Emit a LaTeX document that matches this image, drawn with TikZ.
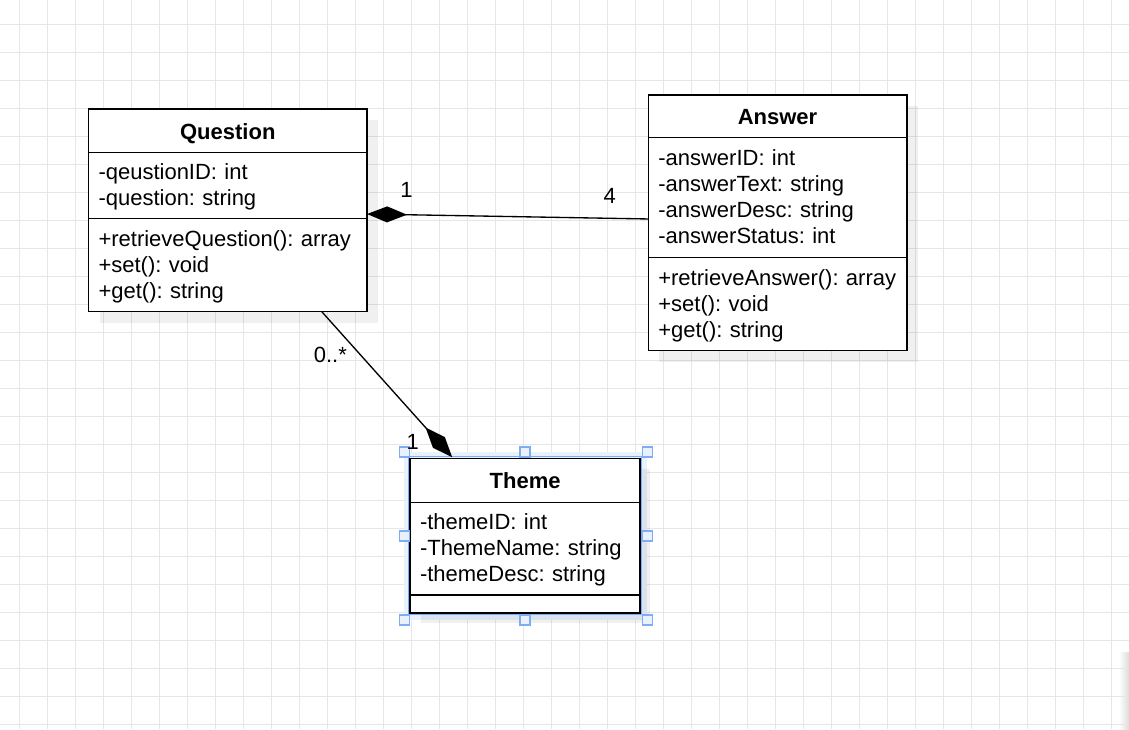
\documentclass[tikz,border=0pt]{standalone}
\usepackage{fontspec}
\setmainfont{Liberation Sans}
\usetikzlibrary{positioning,calc,arrows.meta,backgrounds}

\definecolor{gridgray}{HTML}{E6E6E6}
\definecolor{selblue}{HTML}{7EADF5}
\definecolor{selglow}{HTML}{E8F1FC}

\newcommand{\umlfont}{\fontsize{16.5}{19.5}\selectfont\frenchspacing\hyphenpenalty=10000 }

\begin{document}
\begin{tikzpicture}[x=0.75pt,y=-0.75pt,
	classpart/.style={draw, fill=white, line width=1.2pt, outer sep=0pt,
		inner xsep=7.5pt, inner ysep=0pt, text width=#1},
	classhead/.style={classpart=#1, align=center,
		text height=12.5pt, text depth=0pt, font=\umlfont\bfseries},
	classbody/.style={classpart=#1, align=left,
		execute at begin node={\rule{0pt}{15pt}},
		execute at end node={\rule[-4.2pt]{0pt}{4.2pt}},
		font=\umlfont},
	compo/.style={line width=1pt, -{Diamond[length=30pt,width=12pt]}},
	mult/.style={inner sep=0pt, font=\umlfont},
	selhandle/.style={draw=selblue, fill=selglow, line width=0.9pt,
		minimum size=7.5pt, inner sep=0pt},
	boxshadow/.style={fill=black, opacity=0.06},
	gridline/.style={gridgray, line width=0.75pt}
	]
	
	\useasboundingbox (0,0) rectangle (1129,729);
	
	% Classes
	\node[classhead=193.9pt, minimum height=32.5pt, anchor=north west] (qhead) at (88.5,109) {Question};
	\node[classbody=193.9pt, minimum height=49.5pt, below=0pt of qhead] (qattr)
		{-qeustionID: int\\-question: string};
	\node[classbody=193.9pt, minimum height=70pt, below=0pt of qattr] (qmeth)
		{+retrieveQuestion(): array\\+set(): void\\+get(): string};
	
	\node[classhead=178.8pt, minimum height=32pt, anchor=north west] (ahead) at (648.3,95) {Answer};
	\node[classbody=178.8pt, minimum height=90pt, below=0pt of ahead] (aattr)
		{-answerID: int\\-answerText: string\\-answerDesc: string\\-answerStatus: int};
	\node[classbody=178.8pt, minimum height=69.75pt, below=0pt of aattr] (ameth)
		{+retrieveAnswer(): array\\+set(): void\\+get(): string};
	
	\node[classhead=157.7pt, minimum height=33pt, anchor=north west] (thead) at (410,458.3) {Theme};
	\node[classbody=157.7pt, minimum height=69.5pt, below=0pt of thead] (tattr)
		{-themeID: int\\-ThemeName: string\\-themeDesc: string};
	\node[classpart=157.7pt, minimum height=13.3pt, below=0pt of tattr] (tmeth) {};
	
	% Background: grid, selection glow, shadows
	\begin{scope}[on background layer]
		\fill[white] (0,0) rectangle (1129,729);
		\shade[left color=white, right color=black!14] (1119,652) rectangle (1129,729);
		\foreach \gx in {19,47,...,1111}
			\draw[gridline] (\gx,0) -- (\gx,729);
		\foreach \gy in {24,52,...,724}
			\draw[gridline] (0,\gy) -- (1129,\gy);
		\fill[selglow] ($(thead.north west)+(-6,-6)$) rectangle ($(tmeth.south east)+(7,7)$);
		\fill[boxshadow] ($(qhead.north west)+(11,11)$) rectangle ($(qmeth.south east)+(11,11)$);
		\fill[boxshadow] ($(ahead.north west)+(11,11)$) rectangle ($(ameth.south east)+(11,11)$);
		\fill[boxshadow] ($(thead.north west)+(11,11)$) rectangle ($(tmeth.south east)+(10,10)$);
	\end{scope}
	
	% Selection of Theme
	\draw[selblue, line width=0.75pt] ($(thead.north west)+(-1.5,-1.5)$)
		rectangle ($(tmeth.south east)+(1.5,1.5)$);
	\foreach \hx/\hy [count=\n] in {404.3/452, 525/452, 647.3/452, 404.3/536,
		647.3/536, 404.3/620, 525/620, 647.3/620}
		\node[selhandle] (h\n) at (\hx,\hy) {};
	
	% Coordinates of connector ends
	\coordinate (qaend) at ($(qattr.south east)+(0,-4.3)$);
	\coordinate (aqend) at ($(aattr.west)+(0,21.3)$);
	\coordinate (qtend) at ($(qmeth.south)+(94,0)$);
	\coordinate (tqend) at ($(thead.north)+(-72.9,-1)$);
	
	% Compositions
	\draw[compo] (aqend) -- (qaend);
	\draw[compo] (qtend) -- (tqend);
	
	% Multiplicities
	\node[mult] (mqa) at (406.5,190.2) {1};
	\node[mult] (maq) at (609.7,196.2) {4};
	\node[mult] (mqt) at (330.3,355) {0..*};
	\node[mult] (mtq) at (412.8,442) {1};
	
\end{tikzpicture}
\end{document}
